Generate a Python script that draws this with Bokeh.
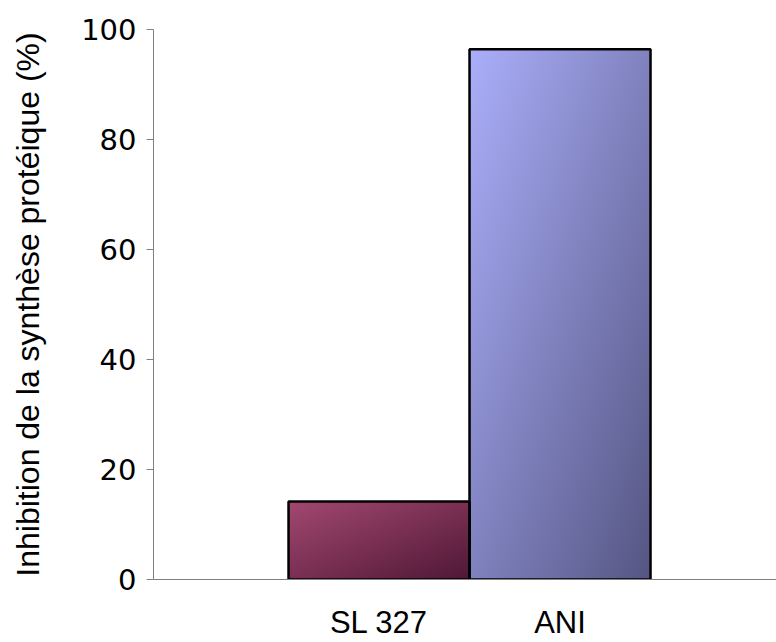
import numpy as np
from bokeh.plotting import figure
from bokeh.models import Range1d, FixedTicker
from bokeh.embed import file_html
from bokeh.resources import INLINE

# ---- data ----
categories = ["SL 327", "ANI"]
values = [14.2, 96.4]
y_ticks = [0, 20, 40, 60, 80, 100]
axis_title = "Inhibition de la synthèse protéique (%)"

# gradient colours (light top-left -> dark bottom-right)
colors_light = [(0xA3, 0x48, 0x71), (0xAB, 0xAF, 0xFA)]
colors_dark = [(0x50, 0x18, 0x36), (0x56, 0x56, 0x84)]

xs = list(range(len(categories)))
bar_width = 1.0


def gradient_image(light, dark, h=300, w=160):
    u = np.linspace(0.0, 1.0, w)[None, :]
    v = 1.0 - np.linspace(0.0, 1.0, h)[:, None]  # row 0 = bottom -> v = 1
    t = np.clip((u + v) / 2.0, 0, 1)
    img = np.empty((h, w), dtype=np.uint32)
    view = img.view(dtype=np.uint8).reshape((h, w, 4))
    for k in range(3):
        view[:, :, k] = (light[k] + (dark[k] - light[k]) * t).astype(np.uint8)
    view[:, :, 3] = 255
    return img


images = [gradient_image(l, d) for l, d in zip(colors_light, colors_dark)]

p = figure(
    frame_width=623, frame_height=550,
    output_backend="svg", toolbar_location=None,
    x_range=Range1d(-1.246, 2.196), y_range=Range1d(0, 100),
    min_border_left=153, min_border_right=0, min_border_top=29, min_border_bottom=60,
)

p.image_rgba(
    image=images,
    x=[x - bar_width / 2 for x in xs],
    y=[0] * len(xs),
    dw=[bar_width] * len(xs),
    dh=values,
)
p.vbar(x=xs, top=values, width=bar_width, fill_color=None,
       line_color="black", line_width=2.5)

p.xgrid.visible = False
p.ygrid.visible = False
p.outline_line_color = None
p.background_fill_color = "white"
p.border_fill_color = "white"

# y axis
p.yaxis.ticker = FixedTicker(ticks=y_ticks)
p.yaxis.axis_line_color = "#808080"
p.yaxis.major_tick_line_color = "#808080"
p.yaxis.major_tick_out = 7
p.yaxis.major_tick_in = 0
p.yaxis.minor_tick_line_color = None
p.yaxis.major_label_text_font = "DejaVu Sans"
p.yaxis.major_label_text_font_size = "29px"
p.yaxis.major_label_text_color = "black"
p.yaxis.major_label_standoff = 10
p.yaxis.axis_label = axis_title
p.yaxis.axis_label_text_font = "Liberation Sans"
p.yaxis.axis_label_text_font_size = "32px"
p.yaxis.axis_label_text_font_style = "normal"
p.yaxis.axis_label_text_color = "black"
p.yaxis.axis_label_standoff = 32

# x axis
p.xaxis.ticker = FixedTicker(ticks=xs)
p.xaxis.major_label_overrides = {x: c for x, c in zip(xs, categories)}
p.xaxis.axis_line_color = "#808080"
p.xaxis.major_tick_line_color = None
p.xaxis.minor_tick_line_color = None
p.xaxis.major_label_text_font = "Liberation Sans"
p.xaxis.major_label_text_font_size = "31px"
p.xaxis.major_label_text_color = "black"
p.xaxis.major_label_standoff = 19

open("out.html", "w").write(file_html(p, INLINE))
